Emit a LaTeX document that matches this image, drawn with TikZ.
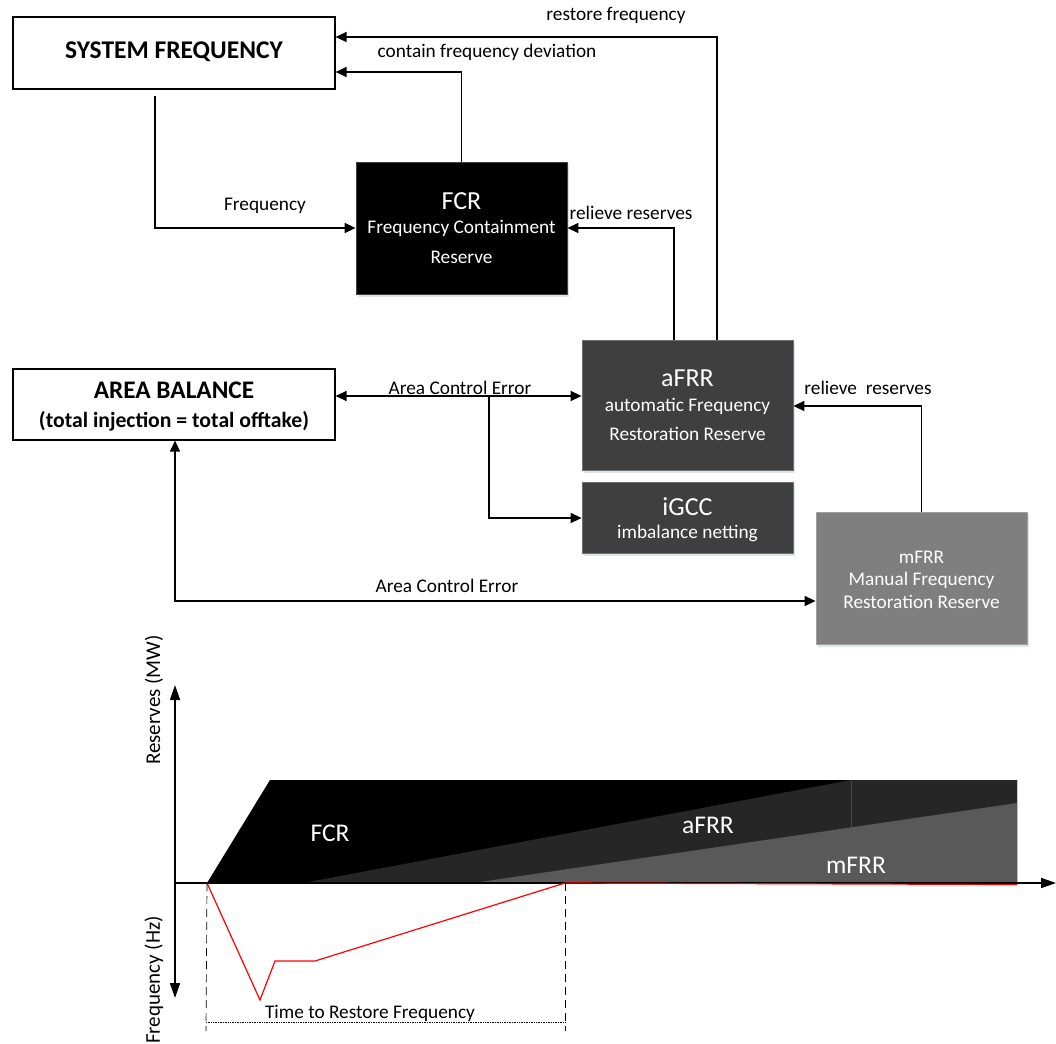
\documentclass[tikz,border=0pt]{standalone}
\usepackage{fontspec}
\setmainfont{Carlito}
\usetikzlibrary{arrows.meta,calc,shadows}
\definecolor{afrrgray}{HTML}{3F3F3F}
\definecolor{mfrrgray}{HTML}{7F7F7F}
\definecolor{chartafrr}{HTML}{262626}
\definecolor{chartmfrr}{HTML}{595959}
\definecolor{shadowblue}{HTML}{DCE4EE}
\newcommand{\fsz}[1]{\fontsize{#1}{#1}\selectfont}
\tikzset{
  wbox/.style={draw=black, line width=1.2pt, fill=white, inner sep=0pt},
  dbox/.style={draw=#1!75!white, line width=0.8pt, fill=#1, inner sep=0pt,
    drop shadow={shadow xshift=2pt, shadow yshift=-3pt, fill=shadowblue, opacity=1}},
  lbl/.style={font=\fsz{19.3}, inner sep=0pt, text=black},
  wtxt/.style={text=white, inner sep=0pt, font=\fsz{19.3}},
  wtitle/.style={text=white, inner sep=0pt, font=\fsz{26}},
  arr/.style={line width=1.4pt, -{Triangle[length=11pt,width=10pt]}},
  arrboth/.style={line width=1.4pt, {Triangle[length=11pt,width=10pt]}-{Triangle[length=11pt,width=10pt]}},
  axarr/.style={line width=1.6pt, {Triangle[length=15pt,width=10pt]}-{Triangle[length=15pt,width=10pt]}},
}
\begin{document}
\begin{tikzpicture}[x=1pt,y=-1pt]
\useasboundingbox (0,0) rectangle (1056,1043);
% ---------- boxes ----------
\node[wbox, minimum width=322pt, minimum height=72pt] (sf) at (174,53) {};
\node[font=\fsz{25.5}\bfseries, inner sep=0pt] (sft) at (174,52) {SYSTEM FREQUENCY};
\node[wbox, minimum width=322pt, minimum height=71pt] (ab) at (174,404.5) {};
\node[font=\fsz{25.3}\bfseries, inner sep=0pt] (abt1) at (174,390) {AREA BALANCE};
\node[font=\fsz{21.7}\bfseries, inner sep=0pt] (abt2) at (174,421) {(total injection = total offtake)};

\node[dbox=black, minimum width=211pt, minimum height=132pt] (fcr) at (461.5,228) {};
\node[wtitle] (fcrt1) at (461.5,201) {FCR};
\node[wtxt] (fcrt2) at (461.5,228) {Frequency Containment};
\node[wtxt] (fcrt3) at (461.5,257) {Reserve};

\node[dbox=afrrgray, minimum width=211pt, minimum height=130pt] (afrr) at (687.5,405) {};
\node[wtitle] (afrrt1) at (687.5,378) {aFRR};
\node[wtxt] (afrrt2) at (687.5,406) {automatic Frequency};
\node[wtxt] (afrrt3) at (687.5,434) {Restoration Reserve};

\node[dbox=afrrgray, minimum width=211pt, minimum height=71pt] (igcc) at (687.5,517.5) {};
\node[wtitle] (igcct1) at (687.5,507) {iGCC};
\node[wtxt] (igcct2) at (687.5,533) {imbalance netting};

\node[dbox=mfrrgray, minimum width=211pt, minimum height=132pt] (mfrr) at (921.5,578) {};
\node[wtxt] (mfrrt1) at (921.5,557) {mFRR};
\node[wtxt] (mfrrt2) at (921.5,580) {Manual Frequency};
\node[wtxt] (mfrrt3) at (921.5,602) {Restoration Reserve};

% ---------- connectors ----------
\coordinate (ace) at (489,396);
\draw[arr] ($(afrr.north)+(29.5,0)$) |- ($(sf.east)+(0,-16)$);
\draw[arr] (fcr.north) |- ($(sf.east)+(0,19)$);
\draw[arr] ($(sf.south)+(-19,6)$) |- (fcr.west);
\draw[arr] ($(afrr.north)+(-13.5,0)$) |- (fcr.east);
\draw[arr] (mfrr.north) |- ($(afrr.east)+(0,1)$);
\draw[arrboth] (ab.east |- ace) -- (afrr.west |- ace);
\draw[arr] (ace) |- ($(igcc.west)+(0,0.5)$);
\draw[arrboth] ($(ab.south)+(1,0)$) |- ($(mfrr.west)+(0,23)$);

% ---------- labels ----------
\node[lbl] (l1) at (616,15) {restore frequency};
\node[lbl] (l2) at (487,52) {contain frequency deviation};
\node[lbl] (l3) at (265,206) {Frequency};
\node[lbl] (l4) at (631,213) {relieve reserves};
\node[lbl] (l5) at (868,388) {relieve\ \ reserves};
\node[lbl] (l6) at (460,388) {Area Control Error};
\node[lbl] (l7) at (447,586) {Area Control Error};

% ---------- chart ----------
\coordinate (o) at (175,883);
\coordinate (yt) at (175,685);
\coordinate (yb) at (175,998);
\coordinate (xe) at (1056,883);
\coordinate (t0) at (207,883);
\coordinate (t1) at (565,883);
\fill[black] (t0) -- (270,780) -- (1017,780) -- (1017,883) -- cycle;
\fill[chartafrr] (303,883) -- (851,780) -- (1017,780) -- (1017,883) -- cycle;
\fill[chartmfrr] (473,883) -- (1017,803) -- (1017,883) -- cycle;
\draw[line width=0.6pt, color=chartafrr!70!blue!60!gray] (851,781) -- (851,827);
\node[wtitle, font=\fsz{25.5}] (cfcr) at (330,833) {FCR};
\node[wtitle, font=\fsz{25.5}] (cafrr) at (708,825) {aFRR};
\node[wtitle, font=\fsz{25.5}] (cmfrr) at (856,865) {mFRR};

\draw[axarr] (yt) -- (yb);
\draw[line width=1.6pt, -{Triangle[length=15pt,width=10pt]}] (o) -- (xe);
\draw[red, line width=1.2pt] (t0) -- (260,1000) -- (275,961) -- (315,961) -- (t1) -- (1017,884.5);
\draw[line width=0.7pt, dash pattern=on 8pt off 5pt] (t0) -- (206,1031);
\draw[line width=0.7pt, dash pattern=on 8pt off 5pt] (t1) -- (565,1031);
\draw[densely dotted, line width=0.7pt] (206,1022) -- (565,1022);
\node[lbl] (ttr) at (370,1013) {Time to Restore Frequency};
\node[rotate=90, font=\fsz{21}, inner sep=0pt] (yres) at (154,700) {Reserves (MW)};
\node[rotate=90, font=\fsz{21}, inner sep=0pt] (yfreq) at (154,980) {Frequency (Hz)};
\end{tikzpicture}
\end{document}
